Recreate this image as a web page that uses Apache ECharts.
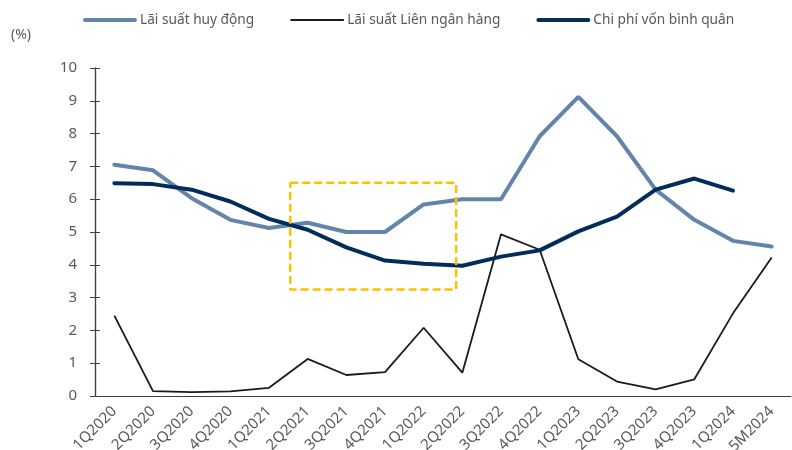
<!DOCTYPE html>
<html>
<head>
<meta charset="utf-8">
<script src="https://cdn.jsdelivr.net/npm/echarts@6/dist/echarts.min.js"></script>
<style>
html, body { margin: 0; padding: 0; background: #fff; }
#main { width: 792px; height: 450px; }
</style>
</head>
<body>
<div id="main"></div>
<script>
// du lieu ------------------
var categories = ['1Q2020', '2Q2020', '3Q2020', '4Q2020', '1Q2021', '2Q2021', '3Q2021', '4Q2021', '1Q2022',
    '2Q2022', '3Q2022', '4Q2022', '1Q2023', '2Q2023', '3Q2023', '4Q2023', '1Q2024', '5M2024'];
var laiSuatHuyDong = [7.05, 6.88, 6.03, 5.37, 5.12, 5.28, 5.0, 5.0, 5.84, 6.0, 6.0, 7.92, 9.12, 7.92, 6.29, 5.37, 4.73, 4.56];
var laiSuatLNH = [2.45, 0.15, 0.12, 0.14, 0.25, 1.13, 0.64, 0.73, 2.08, 0.71, 4.93, 4.46, 1.12, 0.44, 0.2, 0.51, 2.52, 4.22];
var chiPhiVon = [6.49, 6.46, 6.29, 5.93, 5.4, 5.07, 4.53, 4.13, 4.03, 3.97, 4.25, 4.44, 5.02, 5.47, 6.29, 6.63, 6.26, null];
// khung vang (toa do theo truc phu 0..18)
var boxX = [5.05, 9.34, 9.34, 5.05, 5.05];
var boxY = [6.5, 6.5, 3.25, 3.25, 6.5];

var fontName = "'Noto Sans', sans-serif";
var txtColor = '#595959';
var axisColor = '#404040';

// icon legend: duong ke bo tron
var iconDay = 'path://M2,0L52,0A2,2 0 0 1 52,4L2,4A2,2 0 0 1 2,0Z';
var iconMong = 'path://M1,0L53,0A1,1 0 0 1 53,2L1,2A1,1 0 0 1 1,0Z';

var myChart = echarts.init(document.getElementById('main'));

var option = {
    animation: false,
    textStyle: { fontFamily: fontName },
    title: {
        text: '(%)',
        left: 6,
        top: 23,
        textStyle: { fontFamily: fontName, fontSize: 14, fontWeight: 'normal', color: txtColor }
    },
    legend: {
        data: [
            { name: 'Lãi suất huy động', icon: iconDay },
            { name: 'Lãi suất Liên ngân hàng', icon: iconMong },
            { name: 'Chi phí vốn bình quân', icon: iconDay }
        ],
        left: 83,
        top: 13,
        padding: 0,
        itemWidth: 54,
        itemHeight: 14,
        itemGap: 36,
        textStyle: { fontFamily: fontName, fontSize: 13.7, color: txtColor, padding: [0, 0, 0, -2] }
    },
    grid: {
        left: 95,
        right: 1,
        top: 68,
        bottom: 54,
        containLabel: false,
        outerBoundsMode: 'none'
    },
    xAxis: [
        {
            type: 'category',
            data: categories,
            boundaryGap: true,
            axisLine: { lineStyle: { color: axisColor, width: 1.2 } },
            axisTick: { inside: true, length: 5, lineStyle: { color: axisColor } },
            axisLabel: {
                rotate: 45,
                margin: 13,
                interval: 0,
                fontSize: 15,
                color: txtColor,
                fontFamily: fontName
            },
            splitLine: { show: false }
        },
        {
            type: 'value',
            min: 0,
            max: 18,
            show: false
        }
    ],
    yAxis: [
        {
            type: 'value',
            min: 0,
            max: 10,
            interval: 1,
            axisLine: { show: true, lineStyle: { color: axisColor, width: 1.2 } },
            axisTick: { show: true, length: 5, lineStyle: { color: axisColor } },
            axisLabel: { margin: 18, fontSize: 15, color: txtColor, fontFamily: fontName },
            splitLine: { show: false }
        },
        {
            type: 'value',
            min: 0,
            max: 10,
            interval: 1,
            position: 'left',
            axisLine: { show: true, lineStyle: { color: axisColor, width: 1.2 } },
            axisTick: { show: true, inside: true, length: 5, lineStyle: { color: axisColor } },
            axisLabel: { show: false },
            splitLine: { show: false }
        }
    ],
    series: [
        {
            name: 'Lãi suất huy động',
            type: 'line',
            data: laiSuatHuyDong,
            symbol: 'none',
            color: '#6384ab',
            lineStyle: { width: 4, color: '#6384ab', cap: 'round' },
            z: 3
        },
        {
            name: 'Lãi suất Liên ngân hàng',
            type: 'line',
            data: laiSuatLNH,
            symbol: 'none',
            color: '#1a1a1a',
            lineStyle: { width: 1.8, color: '#1a1a1a' },
            z: 2
        },
        {
            name: 'Chi phí vốn bình quân',
            type: 'line',
            data: chiPhiVon,
            symbol: 'none',
            color: '#002d5a',
            lineStyle: { width: 4, color: '#002d5a', cap: 'round' },
            z: 4
        },
        {
            name: 'khung',
            type: 'line',
            xAxisIndex: 1,
            data: boxX.map(function (x, i) { return [x, boxY[i]]; }),
            symbol: 'none',
            silent: true,
            lineStyle: { width: 2.5, color: '#ffc000', type: [8, 4] },
            z: 5
        }
    ]
};
myChart.setOption(option);
</script>
</body>
</html>
